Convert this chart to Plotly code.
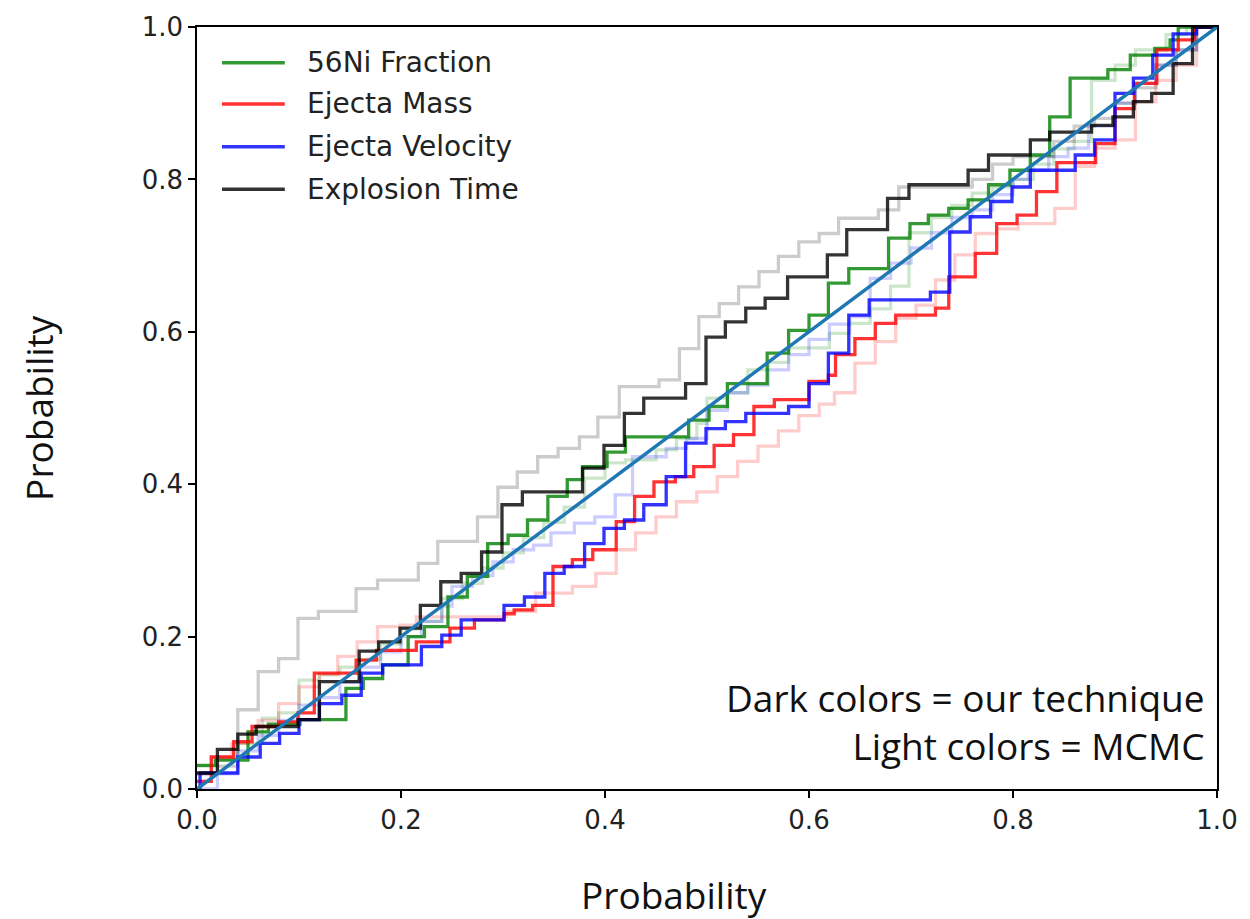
import plotly.graph_objects as go

# ---- data: step points (x where curve steps, new y level) ----
ni_x = [0.0, 0.018, 0.050, 0.070, 0.101, 0.146, 0.163, 0.182, 0.207, 0.223, 0.246, 0.265, 0.285, 0.305, 0.324, 0.344,
        0.363, 0.378, 0.402, 0.420, 0.482, 0.502, 0.520, 0.559, 0.580, 0.600, 0.619, 0.639, 0.678, 0.699, 0.717,
        0.737, 0.756, 0.776, 0.797, 0.817, 0.836, 0.856, 0.893, 0.915, 0.939, 0.954, 0.962, 1.0]
ni_y = [0.031, 0.038, 0.075, 0.085, 0.091, 0.132, 0.145, 0.163, 0.200, 0.213, 0.252, 0.279, 0.322, 0.333, 0.353, 0.384,
        0.406, 0.423, 0.442, 0.462, 0.484, 0.502, 0.532, 0.572, 0.602, 0.622, 0.664, 0.683, 0.723, 0.742, 0.753,
        0.762, 0.773, 0.793, 0.812, 0.832, 0.882, 0.933, 0.944, 0.963, 0.972, 0.983, 1.0, 1.0]

mass_x = [0.0, 0.014, 0.036, 0.054, 0.080, 0.099, 0.115, 0.156, 0.176, 0.215, 0.248, 0.272, 0.301, 0.311, 0.329, 0.349,
          0.368, 0.388, 0.411, 0.429, 0.448, 0.469, 0.487, 0.507, 0.526, 0.546, 0.566, 0.600, 0.619, 0.626, 0.645,
          0.665, 0.685, 0.724, 0.737, 0.763, 0.784, 0.804, 0.823, 0.843, 0.881, 0.900, 0.919, 0.941, 0.962, 0.978, 1.0]
mass_y = [0.010, 0.042, 0.062, 0.082, 0.088, 0.100, 0.152, 0.169, 0.182, 0.193, 0.211, 0.222, 0.230, 0.235, 0.241, 0.292,
          0.301, 0.314, 0.351, 0.384, 0.403, 0.410, 0.423, 0.451, 0.465, 0.502, 0.511, 0.535, 0.543, 0.570, 0.591,
          0.611, 0.622, 0.631, 0.672, 0.703, 0.742, 0.753, 0.784, 0.822, 0.847, 0.893, 0.926, 0.970, 0.983, 1.0, 1.0]

vel_x = [0.0, 0.003, 0.040, 0.062, 0.081, 0.100, 0.120, 0.142, 0.161, 0.182, 0.220, 0.240, 0.259, 0.301, 0.321, 0.341,
         0.360, 0.380, 0.399, 0.419, 0.438, 0.460, 0.479, 0.499, 0.518, 0.538, 0.580, 0.600, 0.619, 0.639, 0.659,
         0.719, 0.738, 0.758, 0.778, 0.799, 0.817, 0.861, 0.880, 0.900, 0.918, 0.937, 0.957, 0.980, 1.0]
vel_y = [0.0, 0.021, 0.042, 0.060, 0.073, 0.091, 0.112, 0.123, 0.152, 0.163, 0.187, 0.202, 0.222, 0.241, 0.252, 0.283,
         0.292, 0.322, 0.342, 0.353, 0.373, 0.410, 0.454, 0.473, 0.482, 0.493, 0.502, 0.532, 0.572, 0.622, 0.642,
         0.652, 0.731, 0.751, 0.771, 0.790, 0.812, 0.832, 0.852, 0.913, 0.933, 0.963, 0.991, 1.0, 1.0]

time_x = [0.0, 0.020, 0.040, 0.058, 0.099, 0.120, 0.159, 0.178, 0.199, 0.219, 0.239, 0.259, 0.279, 0.299, 0.319, 0.378,
          0.399, 0.419, 0.438, 0.479, 0.499, 0.518, 0.538, 0.557, 0.579, 0.618, 0.637, 0.677, 0.698, 0.756, 0.776,
          0.817, 0.836, 0.877, 0.898, 0.918, 0.936, 0.957, 0.976, 1.0]
time_y = [0.021, 0.052, 0.072, 0.082, 0.091, 0.141, 0.181, 0.193, 0.211, 0.241, 0.272, 0.283, 0.311, 0.373, 0.390, 0.421,
          0.451, 0.493, 0.513, 0.532, 0.593, 0.613, 0.631, 0.644, 0.672, 0.701, 0.734, 0.775, 0.793, 0.812, 0.832,
          0.852, 0.862, 0.871, 0.882, 0.902, 0.913, 0.952, 1.0, 1.0]

# MCMC (light) curves
ni_mc_x = [0.0, 0.020, 0.040, 0.064, 0.080, 0.100, 0.120, 0.140, 0.160, 0.180, 0.200, 0.220, 0.240, 0.260, 0.280, 0.300,
           0.320, 0.340, 0.360, 0.380, 0.400, 0.420, 0.450, 0.470, 0.490, 0.500, 0.520, 0.540, 0.560, 0.580, 0.620,
           0.640, 0.660, 0.680, 0.698, 0.720, 0.740, 0.760, 0.780, 0.800, 0.820, 0.840, 0.860, 0.877, 0.900, 0.920,
           0.950, 0.970, 1.0]
ni_mc_y = [0.030, 0.040, 0.060, 0.093, 0.100, 0.143, 0.150, 0.160, 0.170, 0.190, 0.210, 0.220, 0.250, 0.270, 0.290, 0.310,
           0.330, 0.350, 0.370, 0.408, 0.428, 0.432, 0.445, 0.460, 0.480, 0.513, 0.520, 0.550, 0.560, 0.579, 0.598,
           0.611, 0.630, 0.660, 0.730, 0.750, 0.766, 0.782, 0.790, 0.800, 0.820, 0.840, 0.850, 0.930, 0.950, 0.970,
           0.990, 1.0, 1.0]

mass_mc_x = [0.0, 0.014, 0.034, 0.050, 0.060, 0.080, 0.100, 0.120, 0.138, 0.157, 0.177, 0.199, 0.215, 0.303, 0.332, 0.368,
             0.391, 0.411, 0.430, 0.450, 0.470, 0.490, 0.510, 0.530, 0.550, 0.570, 0.590, 0.610, 0.625, 0.645, 0.665,
             0.685, 0.705, 0.724, 0.743, 0.763, 0.784, 0.805, 0.841, 0.861, 0.880, 0.900, 0.920, 0.940, 0.960, 0.980, 1.0]
mass_mc_y = [0.020, 0.042, 0.060, 0.075, 0.090, 0.112, 0.134, 0.150, 0.174, 0.193, 0.213, 0.215, 0.226, 0.233, 0.257, 0.266,
             0.283, 0.314, 0.336, 0.357, 0.377, 0.390, 0.410, 0.430, 0.450, 0.470, 0.490, 0.505, 0.520, 0.559, 0.587,
             0.618, 0.635, 0.668, 0.701, 0.729, 0.735, 0.742, 0.762, 0.817, 0.841, 0.852, 0.902, 0.930, 0.950, 1.0, 1.0]

vel_mc_x = [0.0, 0.020, 0.040, 0.060, 0.080, 0.100, 0.120, 0.140, 0.160, 0.180, 0.200, 0.220, 0.240, 0.250, 0.270, 0.290,
            0.310, 0.330, 0.347, 0.370, 0.390, 0.410, 0.427, 0.460, 0.480, 0.500, 0.520, 0.540, 0.560, 0.580, 0.600,
            0.620, 0.640, 0.660, 0.680, 0.700, 0.720, 0.740, 0.760, 0.780, 0.800, 0.815, 0.835, 0.854, 0.874, 0.900,
            0.920, 0.940, 0.960, 0.980, 1.0]
vel_mc_y = [0.0, 0.020, 0.050, 0.070, 0.090, 0.110, 0.120, 0.140, 0.160, 0.180, 0.200, 0.220, 0.240, 0.266, 0.280, 0.298,
            0.314, 0.320, 0.336, 0.349, 0.357, 0.386, 0.436, 0.447, 0.460, 0.497, 0.520, 0.530, 0.550, 0.570, 0.590,
            0.610, 0.620, 0.670, 0.690, 0.710, 0.730, 0.750, 0.760, 0.780, 0.800, 0.812, 0.830, 0.841, 0.870, 0.900,
            0.926, 0.950, 0.970, 1.0, 1.0]

time_mc_x = [0.0, 0.020, 0.040, 0.060, 0.080, 0.099, 0.119, 0.156, 0.177, 0.217, 0.236, 0.275, 0.295, 0.314, 0.334, 0.354,
             0.375, 0.393, 0.414, 0.453, 0.473, 0.492, 0.512, 0.531, 0.551, 0.570, 0.590, 0.610, 0.629, 0.668, 0.688,
             0.760, 0.780, 0.800, 0.840, 0.860, 0.880, 0.900, 0.920, 0.940, 0.960, 0.980, 1.0]
time_mc_y = [0.020, 0.030, 0.104, 0.154, 0.171, 0.224, 0.233, 0.263, 0.274, 0.296, 0.325, 0.357, 0.396, 0.416, 0.436, 0.447,
             0.462, 0.488, 0.528, 0.537, 0.578, 0.620, 0.637, 0.659, 0.679, 0.699, 0.718, 0.729, 0.749, 0.760, 0.790,
             0.800, 0.820, 0.830, 0.850, 0.870, 0.880, 0.900, 0.920, 0.950, 0.970, 1.0, 1.0]

names = ["56Ni Fraction", "Ejecta Mass", "Ejecta Velocity", "Explosion Time"]
dark_colors = ["rgba(0,128,0,0.8)", "rgba(255,0,0,0.8)", "rgba(0,0,255,0.8)", "rgba(0,0,0,0.8)"]
light_colors = ["rgba(0,128,0,0.2)", "rgba(255,0,0,0.2)", "rgba(0,0,255,0.2)", "rgba(0,0,0,0.2)"]

dark = [(ni_x, ni_y), (mass_x, mass_y), (vel_x, vel_y), (time_x, time_y)]
light = [(ni_mc_x, ni_mc_y), (mass_mc_x, mass_mc_y), (vel_mc_x, vel_mc_y), (time_mc_x, time_mc_y)]

diag = [0.0, 1.0]

fig = go.Figure()
for (xs, ys), c in zip(light, light_colors):
    fig.add_trace(go.Scatter(x=xs, y=ys, mode="lines", line=dict(color=c, width=3.3, shape="hv"),
                             showlegend=False, hoverinfo="skip"))
for (xs, ys), c, n in zip(dark, dark_colors, names):
    fig.add_trace(go.Scatter(x=xs, y=ys, mode="lines", name=n, showlegend=False,
                             line=dict(color=c, width=3.3, shape="hv")))
fig.add_trace(go.Scatter(x=diag, y=diag, mode="lines", line=dict(color="#1f77b4", width=3.5),
                         showlegend=False, hoverinfo="skip"))

axis_common = dict(range=[0, 1], tickvals=[0, 0.2, 0.4, 0.6, 0.8, 1.0], tickformat=".1f",
                   showgrid=False, zeroline=False, showline=True, linecolor="black", linewidth=1.5,
                   mirror=True, ticks="outside", ticklen=7, tickwidth=1.5, tickcolor="black",
                   tickfont=dict(family="DejaVu Sans", size=26, color="#222"))
fig.update_xaxes(**axis_common)
fig.update_yaxes(**axis_common)

# legend drawn as line samples + labels in the upper-left corner of the axes
legend_y = [0.953, 0.899, 0.843, 0.787]
shapes = []
annotations = []
for n, c, ly in zip(names, dark_colors, legend_y):
    shapes.append(dict(type="line", xref="paper", yref="paper", x0=0.0245, x1=0.0861, y0=ly, y1=ly,
                       line=dict(color=c, width=3.5)))
    annotations.append(dict(text=n, x=0.1057, y=ly, xref="paper", yref="paper", showarrow=False,
                            xanchor="left", yanchor="middle",
                            font=dict(family="DejaVu Sans", size=28, color="#222")))

annotations += [
    dict(text="Probability", x=0.468, y=-0.139, xref="paper", yref="paper", showarrow=False,
         xanchor="center", yanchor="middle", font=dict(family="Open Sans", size=37, color="#111")),
    dict(text="Probability", x=-0.156, y=0.5, xref="paper", yref="paper", showarrow=False, textangle=-90,
         xanchor="center", yanchor="middle", font=dict(family="Open Sans", size=37, color="#111")),
    dict(text="Dark colors = our technique<br>Light colors = MCMC", x=0.99, y=0.088, xref="paper",
         yref="paper", showarrow=False, xanchor="right", yanchor="middle", align="right",
         font=dict(family="Open Sans", size=37, color="#111")),
]

fig.update_layout(
    width=1250, height=919,
    margin=dict(l=197, r=31, t=27, b=130),
    paper_bgcolor="white", plot_bgcolor="white",
    showlegend=False,
    shapes=shapes,
    annotations=annotations,
)

fig.write_html("out.html")
